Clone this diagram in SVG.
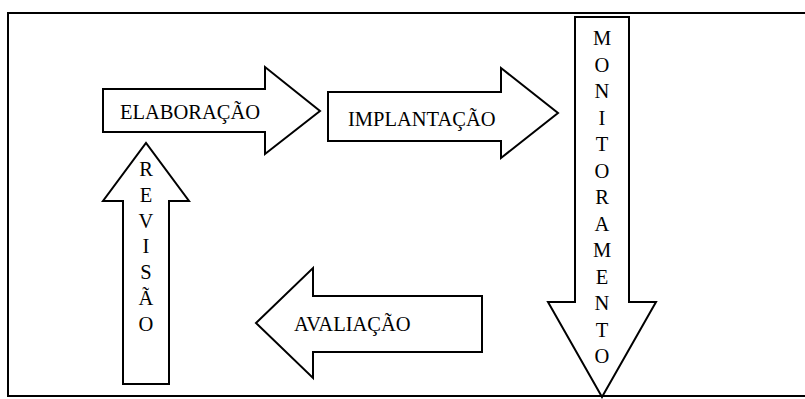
<svg xmlns="http://www.w3.org/2000/svg" width="805" height="399" viewBox="0 0 805 399">
<style>
.arrow{fill:#fff;stroke:#000;stroke-width:2;stroke-linejoin:miter}
.lbl{font-family:"Liberation Serif","Times New Roman",serif;font-size:20.5px;fill:#000}
.v{text-anchor:middle}
</style>
<rect width="805" height="399" fill="#fff"/>
<path id="frame" d="M805 13H8V396H805" fill="none" stroke="#000" stroke-width="2"/>
<g id="elaboracao">
<path class="arrow" d="M103 89H265V67L320 111L265 154V132H103Z"/>
<text class="lbl" x="120" y="119">ELABORAÇÃO</text>
</g>
<g id="implantacao">
<path class="arrow" d="M328 92H501V68L558 113L501 158V141H328Z"/>
<text class="lbl" x="348" y="126">IMPLANTAÇÃO</text>
</g>
<g id="monitoramento">
<path class="arrow" d="M575 17H629V302H656L602 397L548 302H575Z"/>
<text class="lbl v" x="602">
<tspan x="602" y="45">M</tspan><tspan x="602" y="71.5">O</tspan><tspan x="602" y="98">N</tspan><tspan x="602" y="124.5">I</tspan><tspan x="602" y="151">T</tspan><tspan x="602" y="177.5">O</tspan><tspan x="602" y="204">R</tspan><tspan x="602" y="230.5">A</tspan><tspan x="602" y="257">M</tspan><tspan x="602" y="283.5">E</tspan><tspan x="602" y="310">N</tspan><tspan x="602" y="336.5">T</tspan><tspan x="602" y="363">O</tspan>
</text>
</g>
<g id="avaliacao">
<path class="arrow" d="M482 296H313V268L256 323L313 378V352H482Z"/>
<text class="lbl" x="294" y="331">AVALIAÇÃO</text>
</g>
<g id="revisao">
<path class="arrow" d="M123 384V201H103L146 143L189 201H169V384Z"/>
<text class="lbl v" x="146">
<tspan x="146" y="176">R</tspan><tspan x="146" y="202">E</tspan><tspan x="146" y="227.5">V</tspan><tspan x="146" y="253">I</tspan><tspan x="146" y="279">S</tspan><tspan x="146" y="305">Ã</tspan><tspan x="146" y="330.5">O</tspan>
</text>
</g>
</svg>
